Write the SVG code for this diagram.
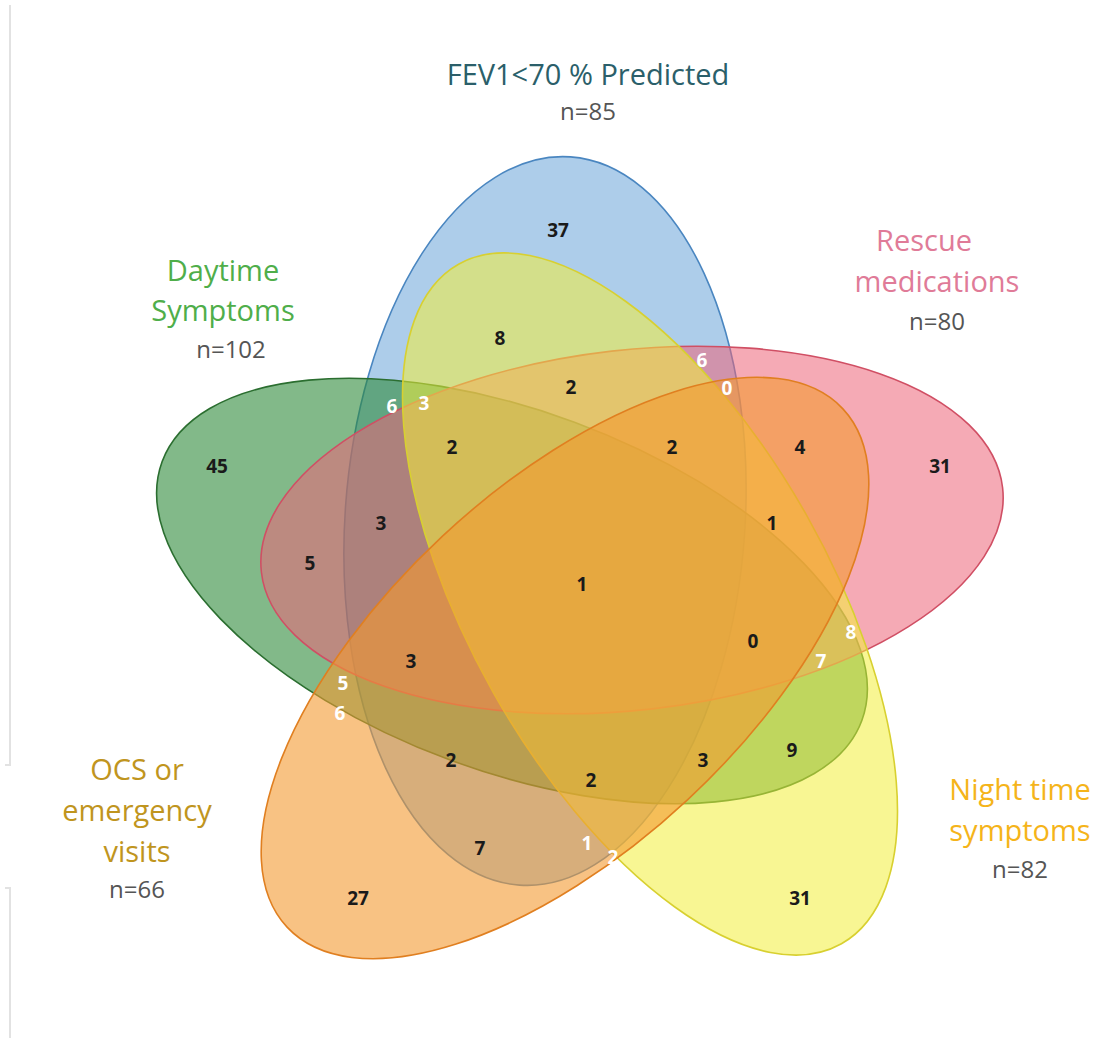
<svg xmlns="http://www.w3.org/2000/svg" width="1100" height="1038" viewBox="0 0 1100 1038">
<style>
.lbl{font-family:"Open Sans","Liberation Sans",sans-serif;text-anchor:middle;font-size:29px}
.n{font-family:"Open Sans","Liberation Sans",sans-serif;text-anchor:middle;font-size:24px;fill:#555}
.num{font-family:"Open Sans","Liberation Sans",sans-serif;text-anchor:middle;font-size:19px;font-weight:bold;fill:#1a1a1a}
.wn{font-family:"Open Sans","Liberation Sans",sans-serif;text-anchor:middle;font-size:19px;font-weight:bold;fill:#fff}
.set{stroke-width:1.6}
</style>
<rect width="1100" height="1038" fill="#fff"/>
<path d="M10 5V765H5M10 1038V888H5" fill="none" stroke="#e2e2e2" stroke-width="2"/>
<g id="sets">
<g id="fev1"><ellipse class="set" cx="545" cy="521" rx="200" ry="365" transform="rotate(4 545 521)" fill="#5b9bd5" fill-opacity="0.5" stroke="#4a86c0"/></g>
<g id="daytime"><ellipse class="set" cx="512" cy="591" rx="373" ry="180" transform="rotate(20.3 512 591)" fill="#2e8b3a" fill-opacity="0.6" stroke="#2b6e30"/></g>
<g id="rescue"><ellipse class="set" cx="632" cy="530" rx="373" ry="180" transform="rotate(-6.5 632 530)" fill="#ec6478" fill-opacity="0.55" stroke="#d04f64"/></g>
<g id="night"><ellipse class="set" cx="650" cy="604" rx="390" ry="180" transform="rotate(60.6 650 604)" fill="#f2ee3a" fill-opacity="0.55" stroke="#d8d030"/></g>
<g id="ocs"><ellipse class="set" cx="565" cy="668" rx="380" ry="180" transform="rotate(-43 565 668)" fill="#f39a30" fill-opacity="0.6" stroke="#e07f20"/></g>
</g>
<g id="connectors"></g>
<g id="labels">
<text class="lbl" x="588" y="85" fill="#2b5f6a">FEV1&lt;70 % Predicted</text>
<text class="n" x="588" y="120">n=85</text>
<text class="lbl" x="223" y="281" fill="#4fae4a">Daytime</text>
<text class="lbl" x="223" y="321" fill="#4fae4a">Symptoms</text>
<text class="n" x="231" y="358">n=102</text>
<text class="lbl" x="924" y="251" fill="#e07b98">Rescue</text>
<text class="lbl" x="937" y="292" fill="#e07b98">medications</text>
<text class="n" x="937" y="330">n=80</text>
<text class="lbl" x="137" y="780" fill="#c0951e">OCS or</text>
<text class="lbl" x="137" y="821" fill="#c0951e">emergency</text>
<text class="lbl" x="137" y="862" fill="#c0951e">visits</text>
<text class="n" x="137" y="898">n=66</text>
<text class="lbl" x="1020" y="800" fill="#f5b41a">Night time</text>
<text class="lbl" x="1020" y="841" fill="#f5b41a">symptoms</text>
<text class="n" x="1020" y="878">n=82</text>
</g>
<g id="counts">
<text class="num" x="558" y="237">37</text>
<text class="num" x="500" y="345">8</text>
<text class="num" x="571" y="394">2</text>
<text class="num" x="452" y="454">2</text>
<text class="num" x="672" y="454">2</text>
<text class="num" x="800" y="454">4</text>
<text class="num" x="940" y="473">31</text>
<text class="num" x="217" y="473">45</text>
<text class="num" x="381" y="530">3</text>
<text class="num" x="310" y="570">5</text>
<text class="num" x="772" y="530">1</text>
<text class="num" x="582" y="591">1</text>
<text class="num" x="753" y="648">0</text>
<text class="num" x="411" y="668">3</text>
<text class="num" x="451" y="767">2</text>
<text class="num" x="591" y="787">2</text>
<text class="num" x="703" y="767">3</text>
<text class="num" x="792" y="757">9</text>
<text class="num" x="480" y="855">7</text>
<text class="num" x="358" y="905">27</text>
<text class="num" x="800" y="905">31</text>
<text class="wn" x="392" y="413">6</text>
<text class="wn" x="424" y="410">3</text>
<text class="wn" x="702" y="367">6</text>
<text class="wn" x="727" y="395" fill="#f6e8c8">0</text>
<text class="wn" x="343" y="690">5</text>
<text class="wn" x="340" y="720">6</text>
<text class="wn" x="851" y="639">8</text>
<text class="wn" x="821" y="668">7</text>
<text class="wn" x="587" y="850">1</text>
<text class="wn" x="613" y="864">2</text>
</g>
</svg>
